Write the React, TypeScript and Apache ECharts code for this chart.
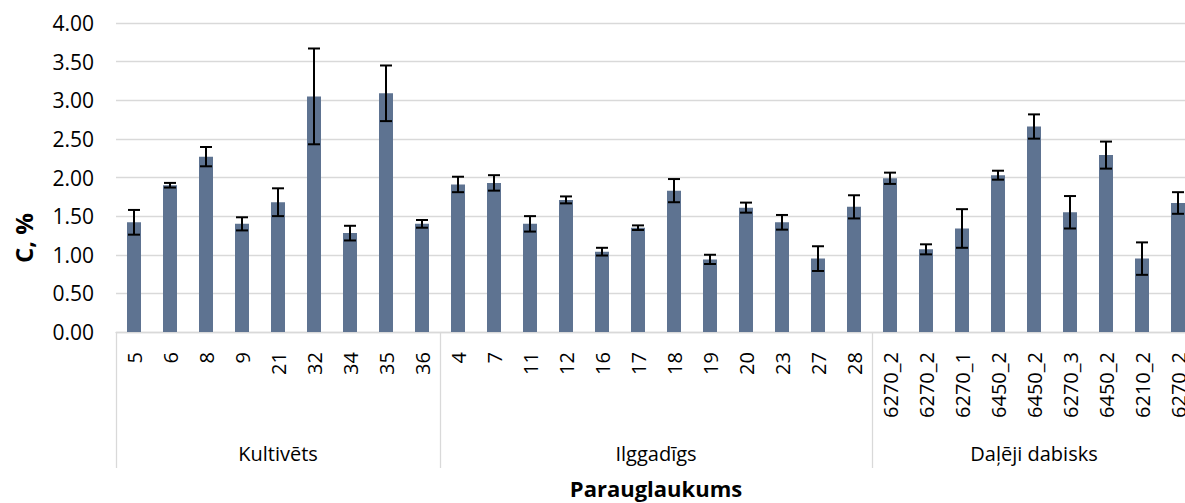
import React, { useEffect, useRef } from "react";
import * as echarts from "echarts";

const categories = [
  "5", "6", "8", "9", "21", "32", "34", "35", "36",
  "4", "7", "11", "12", "16", "17", "18", "19", "20", "23", "27", "28",
  "6270_2", "6270_2", "6270_1", "6450_2", "6450_2", "6270_3", "6450_2", "6210_2", "6270_2",
];
const values = [
  1.42, 1.9, 2.27, 1.4, 1.68, 3.05, 1.28, 3.09, 1.4,
  1.91, 1.93, 1.4, 1.71, 1.04, 1.35, 1.83, 0.94, 1.61, 1.42, 0.95, 1.62,
  1.99, 1.07, 1.34, 2.03, 2.66, 1.55, 2.29, 0.95, 1.67,
];
const errors = [
  0.16, 0.03, 0.125, 0.085, 0.18, 0.62, 0.095, 0.36, 0.05,
  0.1, 0.1, 0.1, 0.045, 0.05, 0.03, 0.15, 0.06, 0.065, 0.095, 0.16, 0.15,
  0.073, 0.065, 0.25, 0.058, 0.157, 0.21, 0.175, 0.21, 0.14,
];
const groupNames = ["Kultivēts", "Ilggadīgs", "Daļēji dabisks"];
const groupSizes = [9, 12, 9];
const yMin = 0;
const yMax = 4;
const yStep = 0.5;
const xTitle = "Parauglaukums";
const yTitle = "C, %";

const FONT = "'Open Sans', 'Noto Sans', sans-serif";
const GRID_COLOR = "#D9D9D9";
const BAR_COLOR = "#5E7391";

export default function App() {
  const ref = useRef<HTMLDivElement>(null);

  useEffect(() => {
    if (!ref.current) return;
    const chart = echarts.init(ref.current, undefined, { renderer: "svg" });

    const boundaries: number[] = [0];
    groupSizes.forEach((s) => boundaries.push(boundaries[boundaries.length - 1] + s));

    chart.setOption({
      animation: false,
      grid: {
        left: 116,
        top: 23,
        bottom: 171,
        right: -11,
        containLabel: false,
        outerBoundsMode: "none",
      },
      xAxis: [
        {
          type: "category",
          data: categories,
          position: "bottom",
          axisLine: { show: true, lineStyle: { color: GRID_COLOR, width: 1.3 } },
          axisTick: { show: false },
          axisLabel: {
            rotate: 90,
            fontSize: 20,
            margin: 20,
            color: "#000",
            fontFamily: FONT,
            interval: 0,
          },
          splitLine: { show: false },
        },
        {
          type: "category",
          data: categories,
          position: "bottom",
          axisLine: { show: false },
          axisLabel: { show: false },
          axisTick: {
            show: true,
            length: 136,
            interval: (i: number) => boundaries.indexOf(i) >= 0,
            lineStyle: { color: GRID_COLOR, width: 1.3 },
          },
          splitLine: { show: false },
        },
      ],
      yAxis: {
        type: "value",
        min: yMin,
        max: yMax,
        interval: yStep,
        axisLine: { show: false },
        axisTick: { show: false },
        axisLabel: {
          formatter: (v: number) => v.toFixed(2),
          fontSize: 21,
          margin: 22,
          color: "#000",
          fontFamily: FONT,
        },
        splitLine: { lineStyle: { color: GRID_COLOR, width: 1.3 } },
      },
      series: [
        {
          type: "bar",
          data: values,
          barWidth: 14,
          itemStyle: { color: BAR_COLOR },
          xAxisIndex: 0,
          yAxisIndex: 0,
        },
        {
          type: "custom",
          xAxisIndex: 0,
          yAxisIndex: 0,
          encode: { x: 0, y: [1, 2] },
          data: values.map((v, i) => [i, v - errors[i], v + errors[i]]),
          z: 10,
          renderItem: (params: any, api: any) => {
            const x = api.value(0);
            const lo = api.coord([x, api.value(1)]);
            const hi = api.coord([x, api.value(2)]);
            const hw = 6;
            const style = { stroke: "#000", lineWidth: 2 };
            return {
              type: "group",
              children: [
                { type: "line", shape: { x1: hi[0], y1: hi[1], x2: lo[0], y2: lo[1] }, style },
                { type: "line", shape: { x1: hi[0] - hw, y1: hi[1], x2: hi[0] + hw, y2: hi[1] }, style },
                { type: "line", shape: { x1: lo[0] - hw, y1: lo[1], x2: lo[0] + hw, y2: lo[1] }, style },
              ],
            };
          },
        },
      ],
    });

    const px = (i: number) => chart.convertToPixel({ xAxisIndex: 0 }, i) as number;
    const labels: any[] = [];
    let start = 0;
    groupSizes.forEach((s, g) => {
      const cx = (px(start) + px(start + s - 1)) / 2;
      labels.push({
        type: "text",
        x: cx,
        y: 453,
        style: {
          text: groupNames[g],
          fontSize: 20,
          fontFamily: FONT,
          fill: "#000",
          textAlign: "center",
          textVerticalAlign: "middle",
        },
      });
      start += s;
    });
    const allCx = (px(0) + px(categories.length - 1)) / 2;
    labels.push({
      type: "text",
      x: allCx,
      y: 488,
      style: {
        text: xTitle,
        fontSize: 22,
        fontWeight: "bold",
        fontFamily: FONT,
        fill: "#000",
        textAlign: "center",
        textVerticalAlign: "middle",
      },
    });
    labels.push({
      type: "text",
      x: 23,
      y: 238,
      rotation: Math.PI / 2,
      style: {
        text: yTitle,
        fontSize: 24,
        fontWeight: "bold",
        fontFamily: FONT,
        fill: "#000",
        textAlign: "center",
        textVerticalAlign: "middle",
      },
    });
    chart.setOption({ graphic: labels });

    return () => chart.dispose();
  }, []);

  return (
    <div
      ref={ref}
      style={{ position: "fixed", left: 0, top: 0, width: 1185, height: 503, background: "#fff" }}
    />
  );
}
